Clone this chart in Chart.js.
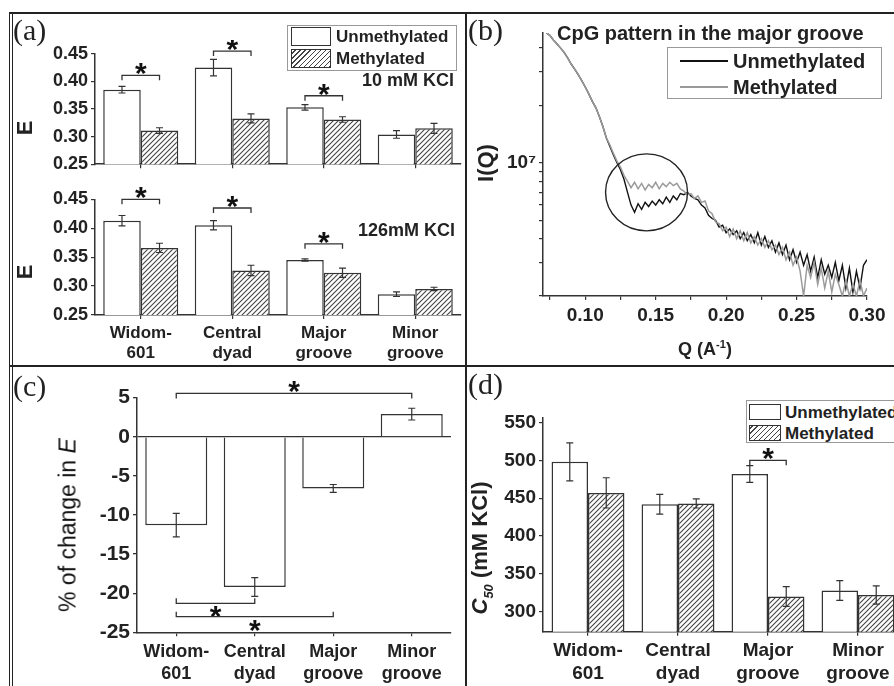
<!DOCTYPE html>
<html>
<head>
<meta charset="utf-8">
<script src="https://cdn.jsdelivr.net/npm/chart.js@4.4.0/dist/chart.umd.min.js"></script>
<style>
  html, body { margin: 0; padding: 0; background: #fff; }
  #fig { position: relative; width: 894px; height: 686px; overflow: hidden; background: #fff; }
  canvas { position: absolute; }
  .ln { position: absolute; background: #222; z-index: 6; }
  .t { position: absolute; white-space: nowrap; font-family: 'Liberation Sans', Arial, sans-serif; font-weight: bold; color: #222; line-height: 1; z-index: 5; }
  .rot { transform: translate(-50%, -50%) rotate(-90deg); }
  .mid { transform: translate(-50%, -50%); }
  .pl { position: absolute; font-family: 'Liberation Serif', 'DejaVu Serif', serif; font-size: 30px; color: #222; line-height: 1; z-index: 5; }
  .box { position: absolute; border: 1px solid #999; background: #fff; z-index: 3; box-sizing: border-box; }
  .sw { position: absolute; box-sizing: border-box; border: 1.5px solid #333; background: #fff; z-index: 4; }
  .hatch { background: repeating-linear-gradient(-45deg, #444 0, #444 1px, #fff 1px, #fff 3.6px); }
</style>
</head>
<body>
<div id="fig">
  <canvas id="chartA1" width="452" height="138" style="left:14px;top:40px"></canvas>
  <canvas id="chartA2" width="452" height="188" style="left:14px;top:178px"></canvas>
  <canvas id="chartB" width="426" height="352" style="left:468px;top:14px"></canvas>
  <canvas id="chartC" width="452" height="316" style="left:14px;top:370px"></canvas>
  <canvas id="chartD" width="452" height="316" style="left:468px;top:370px"></canvas>

  <!-- marcos -->
  <div class="ln" style="left:9px;top:12px;width:885px;height:2px"></div>
  <div class="ln" style="left:9px;top:12px;width:0;height:674px;background:none;border-left:4px double #222"></div>
  <div class="ln" style="left:465px;top:12px;width:2px;height:674px"></div>
  <div class="ln" style="left:9px;top:365px;width:885px;height:2px"></div>

  <!-- etiquetas de panel -->
  <div class="pl" style="left:13px;top:15px">(a)</div>
  <div class="pl" style="left:468px;top:15px">(b)</div>
  <div class="pl" style="left:13px;top:371px">(c)</div>
  <div class="pl" style="left:468px;top:369px">(d)</div>

  <!-- panel (a) -->
  <div class="t rot" style="left:25px;top:128px;font-size:22px">E</div>
  <div class="t rot" style="left:25px;top:272px;font-size:22px">E</div>
  <div class="t" style="left:362px;top:71px;font-size:18px">10 mM KCl</div>
  <div class="t" style="left:358px;top:221px;font-size:18px">126mM KCl</div>
  <div class="box" style="left:287px;top:25px;width:170px;height:46px"></div>
  <div class="sw" style="left:291px;top:27px;width:40px;height:19px"></div>
  <div class="sw hatch" style="left:291px;top:49px;width:40px;height:19px"></div>
  <div class="t" style="left:336px;top:28px;font-size:17px">Unmethylated</div>
  <div class="t" style="left:336px;top:50px;font-size:17px">Methylated</div>

  <!-- panel (b) -->
  <div class="t" style="left:557px;top:23px;font-size:20px">CpG pattern in the major groove</div>
  <div class="box" style="left:667px;top:47px;width:215px;height:52px"></div>
  <div class="ln" style="left:680px;top:60px;width:48px;height:2px;background:#111;z-index:4"></div>
  <div class="ln" style="left:680px;top:86px;width:48px;height:2px;background:#999;z-index:4"></div>
  <div class="t" style="left:733px;top:51px;font-size:20px">Unmethylated</div>
  <div class="t" style="left:733px;top:77px;font-size:20px">Methylated</div>
  <div class="t rot" style="left:486px;top:163px;font-size:22px">I(Q)</div>
  <div class="t mid" style="left:705px;top:348px;font-size:18px">Q (A<sup style="font-size:11px">-1</sup>)</div>

  <!-- panel (c) -->
  <div class="t rot" style="left:68px;top:525px;font-size:23px;font-weight:normal;color:#111">% of change in <i>E</i></div>

  <!-- panel (d) -->
  <div class="t rot" style="left:482px;top:548px;font-size:22px"><i>C</i><sub style="font-size:13px"><i>50</i></sub> (mM KCl)</div>
  <div class="box" style="left:746px;top:400px;width:160px;height:43px"></div>
  <div class="sw" style="left:749px;top:404px;width:32px;height:16px"></div>
  <div class="sw hatch" style="left:749px;top:425px;width:32px;height:16px"></div>
  <div class="t" style="left:785px;top:404px;font-size:17px">Unmethylated</div>
  <div class="t" style="left:785px;top:425px;font-size:17px">Methylated</div>
</div>

<script>
// ---- Datos ----
const categories = [['Widom-', '601'], ['Central', 'dyad'], ['Major', 'groove'], ['Minor', 'groove']];

// (a) FRET E, 10 mM KCl
const eUnmeth10 = [0.385, 0.425, 0.353, 0.304];
const eMeth10 = [0.311, 0.333, 0.331, 0.315];
const errUnmeth10 = [0.006, 0.015, 0.005, 0.007];
const errMeth10 = [0.005, 0.008, 0.005, 0.009];
// (a) FRET E, 126 mM KCl
const eUnmeth126 = [0.413, 0.405, 0.345, 0.286];
const eMeth126 = [0.366, 0.327, 0.323, 0.295];
const errUnmeth126 = [0.009, 0.008, 0.002, 0.004];
const errMeth126 = [0.008, 0.009, 0.008, 0.003];
const eTicks = [0.25, 0.30, 0.35, 0.40, 0.45];
const eTickLabels = ['0.25', '0.30', '0.35', '0.40', '0.45'];

// (b) SAXS I(Q), en unidades de 10^6
const qStart = 0.0725, qStep = 0.0025;
const iUnmeth = [48, 46.5, 44, 42, 40, 38, 35.5, 33, 31, 29, 27, 25, 23, 21, 19.5, 17.5, 15.5, 13.5, 12.2, 11, 10.0, 9.2,
  8.2, 7.0, 6.0, 5.5, 6.1, 5.7, 6.2, 5.9, 6.3, 6.0, 6.4, 6.1, 6.6, 6.2, 6.7, 6.4, 6.9, 6.8, 7.0, 6.7,
  6.5, 6.4, 6.0, 5.8, 5.3, 5.1, 5.0, 4.6, 4.7, 4.3, 4.5, 4.2, 4.4, 4.0, 4.3, 3.9, 4.2, 3.8, 4.3, 3.7,
  4.1, 3.6, 3.9, 3.4, 3.8, 3.3, 3.7, 3.1, 3.5, 3.0, 3.4, 2.9, 3.3, 2.7, 3.2, 2.5, 3.1, 2.6, 2.9, 2.5,
  3.0, 2.4, 2.9, 2.2, 2.8, 2.1, 2.7, 2.2, 2.9, 3.1];
const iMeth = [48, 46.5, 44, 42, 40, 38, 35.5, 33, 31, 29, 27, 25, 23, 21, 19.5, 17.5, 15.5, 13.5, 12.4, 11.2, 10.2, 9.5,
  8.6, 8.0, 7.4, 7.9, 7.3, 7.8, 7.2, 7.7, 7.4, 7.9, 7.3, 7.8, 7.5, 7.9, 7.6, 7.8, 7.3, 7.1, 6.8, 6.9,
  6.5, 6.7, 6.2, 6.3, 5.6, 5.4, 4.9, 4.8, 4.4, 4.6, 4.1, 4.5, 4.0, 4.4, 3.9, 4.3, 3.8, 4.1, 3.7, 4.0,
  3.6, 3.9, 3.5, 3.7, 3.3, 3.6, 3.1, 3.4, 2.9, 3.2, 2.7, 2.0, 2.9, 2.5, 3.0, 2.3, 2.8, 2.2, 2.7, 2.1,
  2.6, 2.3, 2.0, 2.4, 2.0, 2.3, 2.0, 2.4, 2.0, 2.2];
const qTicks = [0.075, 0.10, 0.125, 0.15, 0.175, 0.20, 0.225, 0.25, 0.275, 0.30];
const qTickLabels = ['', '0.10', '', '0.15', '', '0.20', '', '0.25', '', '0.30'];
const iTicks = [2, 3, 4, 5, 6, 7, 8, 9, 10, 20, 30, 40];
const circleCenter = { q: 0.1435, i: 7.0 };

// (c) % de cambio en E
const changeE = [-11.3, -19.2, -6.6, 2.9];
const errChangeE = [1.5, 1.2, 0.5, 0.75];
const changeTicks = [-25, -20, -15, -10, -5, 0, 5];
const changeTickLabels = ['-25', '-20', '-15', '-10', '-5', '0', '5'];

// (d) C50 (mM KCl)
const c50Unmeth = [498, 442, 482, 328];
const c50Meth = [457, 443, 320, 322];
const errC50Unmeth = [25, 13, 11, 13];
const errC50Meth = [20, 6, 13, 12];
const c50Ticks = [300, 350, 400, 450, 500, 550];

// Corchetes de significancia: [categoria, dataset]
const sig10 = [
  { from: [0, 0], to: [0, 1], at: 0.411 },
  { from: [1, 0], to: [1, 1], at: 0.455 },
  { from: [2, 0], to: [2, 1], at: 0.374 }
];
const sig126 = [
  { from: [0, 0], to: [0, 1], at: 0.450 },
  { from: [1, 0], to: [1, 1], at: 0.435 },
  { from: [2, 0], to: [2, 1], at: 0.373 }
];
const sigChange = [
  { from: [0, 0], to: [3, 0], at: 5.55 },
  { from: [0, 0], to: [1, 0], at: -21.3, up: true },
  { from: [0, 0], to: [2, 0], at: -23.0, up: true }
];
const sigC50 = [{ from: [2, 0], to: [2, 1], at: 500 }];

// ---- Estilos comunes ----
const FONT = "'Liberation Sans', Arial, sans-serif";
Chart.defaults.font.family = FONT;
Chart.defaults.color = '#222';
const AXIS = '#333';

function makeHatch(ctx) {
  const c = document.createElement('canvas');
  c.width = 5; c.height = 5;
  const g = c.getContext('2d');
  g.fillStyle = '#fff';
  g.fillRect(0, 0, 5, 5);
  g.strokeStyle = '#444';
  g.lineWidth = 1.1;
  g.beginPath();
  g.moveTo(0, 5); g.lineTo(5, 0);
  g.moveTo(-1, 1); g.lineTo(1, -1);
  g.moveTo(4, 6); g.lineTo(6, 4);
  g.stroke();
  return ctx.createPattern(c, 'repeat');
}

// Barras de error desde dataset.errors
const errorBarPlugin = {
  id: 'errorBars',
  afterDatasetsDraw(chart) {
    const ctx = chart.ctx;
    const y = chart.scales.y;
    chart.data.datasets.forEach((ds, di) => {
      if (!ds.errors) return;
      chart.getDatasetMeta(di).data.forEach((bar, i) => {
        const top = y.getPixelForValue(ds.data[i] + ds.errors[i]);
        const bot = y.getPixelForValue(ds.data[i] - ds.errors[i]);
        ctx.save();
        ctx.strokeStyle = '#333';
        ctx.lineWidth = 1.2;
        ctx.beginPath();
        ctx.moveTo(bar.x, top); ctx.lineTo(bar.x, bot);
        ctx.moveTo(bar.x - 3.5, top); ctx.lineTo(bar.x + 3.5, top);
        ctx.moveTo(bar.x - 3.5, bot); ctx.lineTo(bar.x + 3.5, bot);
        ctx.stroke();
        ctx.restore();
      });
    });
  }
};

// Corchetes con asterisco
function bracketPlugin(items) {
  return {
    id: 'brackets',
    afterDraw(chart) {
      const ctx = chart.ctx;
      const y = chart.scales.y;
      ctx.save();
      ctx.strokeStyle = '#333';
      ctx.lineWidth = 1.3;
      ctx.fillStyle = '#111';
      ctx.font = 'bold 30px ' + FONT;
      ctx.textAlign = 'center';
      ctx.textBaseline = 'alphabetic';
      items.forEach(b => {
        const x1 = chart.getDatasetMeta(b.from[1]).data[b.from[0]].x;
        const x2 = chart.getDatasetMeta(b.to[1]).data[b.to[0]].x;
        const yy = y.getPixelForValue(b.at);
        const d = b.up ? -5 : 5;
        ctx.beginPath();
        ctx.moveTo(x1, yy + d); ctx.lineTo(x1, yy); ctx.lineTo(x2, yy); ctx.lineTo(x2, yy + d);
        ctx.stroke();
        const sy = b.up ? yy + 7 : yy - 8;
        ctx.fillText('*', (x1 + x2) / 2, sy + 16);
      });
      ctx.restore();
    }
  };
}

function yAxis(min, max, ticks, labels, width, fontSize) {
  return {
    min: min,
    max: max,
    afterBuildTicks: s => { s.ticks = ticks.map(v => ({ value: v })); },
    afterFit: s => { s.width = width; },
    ticks: { callback: (v, i) => labels[i], font: { size: fontSize, weight: 'bold' }, color: '#222', padding: 3 },
    grid: { drawOnChartArea: false, tickLength: 4, color: AXIS, lineWidth: 1.2 },
    border: { color: AXIS, width: 1.5 }
  };
}

function xCategory(height, showLabels, fontSize, pad) {
  return {
    afterFit: s => { s.height = height; },
    ticks: { display: showLabels, font: { size: fontSize, weight: 'bold' }, color: '#222', padding: pad, maxRotation: 0, autoSkip: false },
    grid: { offset: false, drawOnChartArea: false, tickLength: 4, color: AXIS, lineWidth: 1.2 },
    border: { color: AXIS, width: 1.5 }
  };
}

function pairedBars(id, unmeth, meth, errU, errM, sig, y, x, padding, catPct) {
  const ctx = document.getElementById(id).getContext('2d');
  return new Chart(ctx, {
    type: 'bar',
    data: {
      labels: categories,
      datasets: [
        { label: 'Unmethylated', data: unmeth, errors: errU, backgroundColor: '#fff', borderColor: '#333', borderWidth: 1.5 },
        { label: 'Methylated', data: meth, errors: errM, backgroundColor: makeHatch(ctx), borderColor: '#333', borderWidth: 1.5 }
      ]
    },
    options: {
      responsive: false,
      animation: false,
      datasets: { bar: { categoryPercentage: catPct, barPercentage: 1.0 } },
      layout: { padding: padding },
      plugins: { legend: { display: false }, tooltip: { enabled: false } },
      scales: { x: x, y: y }
    },
    plugins: [errorBarPlugin, bracketPlugin(sig)]
  });
}

// ---- Panel (a) ----
pairedBars('chartA1', eUnmeth10, eMeth10, errUnmeth10, errMeth10, sig10,
  yAxis(0.25, 0.45, eTicks, eTickLabels, 81, 18),
  xCategory(8, false, 16, 4),
  { left: 0, right: 5, top: 12, bottom: 0 }, 0.82);

pairedBars('chartA2', eUnmeth126, eMeth126, errUnmeth126, errMeth126, sig126,
  yAxis(0.25, 0.45, eTicks, eTickLabels, 81, 18),
  xCategory(51, true, 17, 4),
  { left: 0, right: 5, top: 21.3, bottom: 0 }, 0.82);

// ---- Panel (b) ----
const circlePlugin = {
  id: 'circle',
  afterDatasetsDraw(chart) {
    const ctx = chart.ctx;
    const cx = chart.scales.x.getPixelForValue(circleCenter.q);
    const cy = chart.scales.y.getPixelForValue(circleCenter.i);
    ctx.save();
    ctx.strokeStyle = '#222';
    ctx.lineWidth = 1.4;
    ctx.beginPath();
    ctx.ellipse(cx, cy, 41, 38.5, 0, 0, Math.PI * 2);
    ctx.stroke();
    ctx.restore();
  }
};

const qValues = iUnmeth.map((_, i) => +(qStart + i * qStep).toFixed(4));

new Chart(document.getElementById('chartB'), {
  type: 'line',
  data: {
    datasets: [
      { label: 'Methylated', data: qValues.map((q, i) => ({ x: q, y: iMeth[i] })), borderColor: '#9b9b9b', borderWidth: 1.5, pointRadius: 0, tension: 0 },
      { label: 'Unmethylated', data: qValues.map((q, i) => ({ x: q, y: iUnmeth[i] })), borderColor: '#111', borderWidth: 1.4, pointRadius: 0, tension: 0 }
    ]
  },
  options: {
    responsive: false,
    animation: false,
    layout: { padding: { left: 0, right: 27, top: 19, bottom: 0 } },
    plugins: { legend: { display: false }, tooltip: { enabled: false } },
    scales: {
      x: {
        type: 'linear',
        min: 0.07,
        max: 0.30,
        afterBuildTicks: s => { s.ticks = qTicks.map(v => ({ value: v })); },
        afterFit: s => { s.height = 70; },
        ticks: { callback: (v, i) => qTickLabels[i], font: { size: 19, weight: 'bold' }, color: '#222', padding: 4, maxRotation: 0, autoSkip: false },
        grid: { drawOnChartArea: false, tickLength: 4, color: AXIS, lineWidth: 1.2 },
        border: { color: AXIS, width: 1.5 }
      },
      y: {
        type: 'logarithmic',
        min: 2,
        max: 48,
        afterBuildTicks: s => { s.ticks = iTicks.map(v => ({ value: v })); },
        afterFit: s => { s.width = 75; },
        ticks: { callback: v => (v === 10 ? '10\u2077' : ''), font: { size: 19, weight: 'bold' }, color: '#222', padding: 3, autoSkip: false },
        grid: { drawOnChartArea: false, tickLength: 4, color: AXIS, lineWidth: 1.2 },
        border: { color: AXIS, width: 1.5 }
      }
    }
  },
  plugins: [circlePlugin]
});

// ---- Panel (c) ----
const yChange = yAxis(-25, 5, changeTicks, changeTickLabels, 123, 21);
yChange.grid = {
  drawOnChartArea: true,
  tickLength: 4,
  lineWidth: 1.3,
  tickColor: AXIS,
  color: c => (c.tick && c.tick.value === 0 ? AXIS : 'rgba(0,0,0,0)')
};

new Chart(document.getElementById('chartC'), {
  type: 'bar',
  data: {
    labels: categories,
    datasets: [
      { label: '% change', data: changeE, errors: errChangeE, backgroundColor: '#fff', borderColor: '#333', borderWidth: 1.5 }
    ]
  },
  options: {
    responsive: false,
    animation: false,
    datasets: { bar: { categoryPercentage: 0.79, barPercentage: 1.0 } },
    layout: { padding: { left: 0, right: 15, top: 27.7, bottom: 0 } },
    plugins: { legend: { display: false }, tooltip: { enabled: false } },
    scales: { x: xCategory(53.7, true, 18, 5), y: yChange }
  },
  plugins: [errorBarPlugin, bracketPlugin(sigChange)]
});

// ---- Panel (d) ----
pairedBars('chartD', c50Unmeth, c50Meth, errC50Unmeth, errC50Meth, sigC50,
  yAxis(273.5, 556, c50Ticks, c50Ticks.map(String), 75, 19),
  xCategory(54.3, true, 19, 4),
  { left: 0, right: 17, top: 48, bottom: 0 }, 0.81);
</script>
</body>
</html>
